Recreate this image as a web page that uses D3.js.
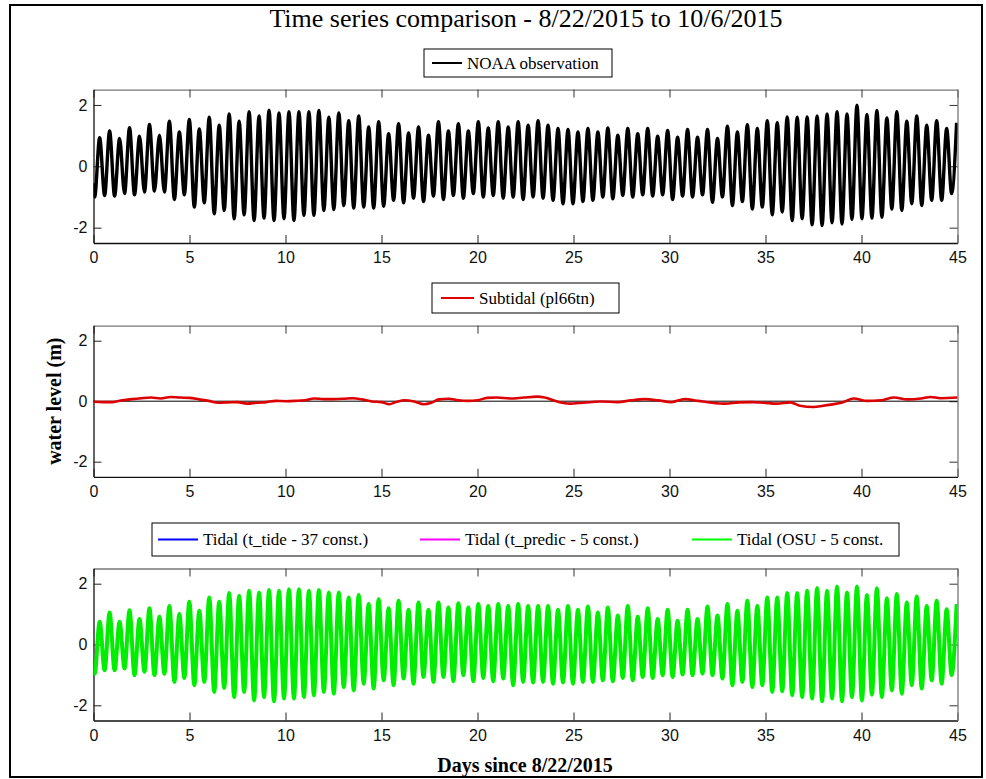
<!DOCTYPE html>
<html>
<head>
<meta charset="utf-8">
<script src="https://cdn.jsdelivr.net/npm/d3@7/dist/d3.min.js"></script>
<style>
  body { margin: 0; background: #fff; }
  svg { display: block; }
</style>
</head>
<body>
<svg id="chart" width="986" height="779"></svg>
<script>
// ---- Axis ticks ----
const xTicks = [0, 5, 10, 15, 20, 25, 30, 35, 40, 45];
const yTicks = [-2, 0, 2];

// ---- Time base of the high waters (days since 8/22/2015) ----
const firstHighDay = 0.32;
const highWaterSpacing = 0.519;

// ---- NOAA observation: level at day 0, then successive low / high waters (m) ----
const obsStartLevel = -0.55;
const obsLows = [
  -1.00, -0.95, -0.97, -0.89, -0.93, -0.84, -0.81, -0.84, -1.08, -0.93,
  -1.33, -1.19, -1.55, -1.44, -1.71, -1.58, -1.77, -1.69, -1.77, -1.71,
  -1.77, -1.60, -1.60, -1.44, -1.41, -1.28, -1.36, -1.33, -1.36, -1.30,
  -1.11, -1.19, -1.04, -1.15, -0.97, -1.08, -0.95, -1.04, -0.89, -1.00,
  -0.95, -1.04, -1.00, -1.08, -1.00, -1.04, -1.11, -1.22, -1.22, -1.15,
  -1.11, -1.00, -1.06, -0.95, -1.00, -0.93, -0.97, -0.93, -1.08, -0.97,
  -1.00, -0.93, -1.17, -1.00, -1.28, -1.15, -1.39, -1.33, -1.58, -1.49,
  -1.77, -1.71, -1.91, -1.93, -1.84, -1.88, -1.73, -1.71, -1.69, -1.66,
  -1.39, -1.44, -1.22, -1.28, -1.11, -1.11, -0.89
];
const obsHighs = [
  0.93, 1.15, 0.91, 1.26, 0.98, 1.36, 1.01, 1.47, 1.12, 1.53,
  1.22, 1.60, 1.34, 1.71, 1.47, 1.78, 1.64, 1.83, 1.74, 1.78,
  1.78, 1.78, 1.82, 1.60, 1.74, 1.49, 1.64, 1.28, 1.45, 1.06,
  1.39, 1.09, 1.28, 1.01, 1.45, 1.15, 1.39, 1.15, 1.45, 1.25,
  1.45, 1.28, 1.45, 1.34, 1.49, 1.34, 1.23, 1.20, 1.12, 1.23,
  1.12, 1.25, 1.01, 1.23, 1.06, 1.23, 0.98, 1.17, 0.95, 1.20,
  0.95, 1.20, 0.91, 1.31, 1.12, 1.36, 1.23, 1.49, 1.42, 1.61,
  1.60, 1.61, 1.64, 1.71, 1.78, 1.71, 1.99, 1.69, 1.82, 1.58,
  1.78, 1.47, 1.64, 1.34, 1.49, 1.23, 1.42
];

// ---- Tidal prediction (OSU, 5 constituents) ----
const tideStartLevel = -0.70;
const tideLows = [
  -0.96, -0.85, -0.85, -0.79, -1.01, -0.90, -1.01, -0.96, -1.23, -1.10,
  -1.34, -1.23, -1.56, -1.43, -1.73, -1.56, -1.84, -1.73, -1.87, -1.78,
  -1.78, -1.73, -1.67, -1.56, -1.62, -1.40, -1.51, -1.29, -1.45, -1.18,
  -1.34, -1.12, -1.29, -1.07, -1.23, -1.07, -1.21, -1.01, -1.21, -1.10,
  -1.21, -1.12, -1.34, -1.23, -1.25, -1.23, -1.29, -1.25, -1.29, -1.23,
  -1.23, -1.18, -1.21, -1.10, -1.18, -1.07, -1.10, -1.01, -1.07, -0.99,
  -1.01, -0.96, -1.01, -1.12, -1.34, -1.23, -1.40, -1.34, -1.56, -1.54,
  -1.67, -1.73, -1.78, -1.87, -1.78, -1.87, -1.73, -1.84, -1.65, -1.73,
  -1.51, -1.62, -1.34, -1.45, -1.18, -1.29, -1.01
];
const tideHighs = [
  0.75, 1.05, 0.75, 1.13, 0.84, 1.19, 0.91, 1.27, 1.00, 1.41,
  1.11, 1.55, 1.41, 1.69, 1.60, 1.77, 1.71, 1.79, 1.77, 1.82,
  1.82, 1.77, 1.79, 1.71, 1.71, 1.55, 1.63, 1.33, 1.49, 1.19,
  1.44, 1.14, 1.38, 1.14, 1.38, 1.22, 1.36, 1.22, 1.33, 1.27,
  1.33, 1.27, 1.33, 1.27, 1.27, 1.27, 1.14, 1.27, 1.14, 1.25,
  1.05, 1.22, 0.95, 1.27, 0.91, 1.19, 0.84, 1.14, 0.78, 1.14,
  0.84, 1.25, 0.95, 1.33, 1.11, 1.44, 1.27, 1.55, 1.55, 1.69,
  1.69, 1.77, 1.86, 1.77, 1.91, 1.71, 1.91, 1.63, 1.85, 1.52,
  1.66, 1.38, 1.58, 1.27, 1.44, 1.16, 1.33
];

// ---- Subtidal signal (pl66tn filter) ----
const subtidalDays = [
  0, 0.5, 1, 1.5, 2, 2.5, 3, 3.5, 4, 4.5, 5, 5.5, 6, 6.5, 7, 7.5, 8, 8.5, 9, 9.5,
  10, 10.5, 11, 11.5, 12, 12.5, 13, 13.5, 14, 14.5, 15, 15.4, 15.8, 16.2, 16.7, 17.2, 17.6, 18, 18.5, 19,
  19.5, 20, 20.5, 21, 21.7, 22.4, 23.1, 23.5, 24.2, 24.8, 25.5, 26.4, 27.3, 28.0, 28.7, 29.4, 30.1, 30.8, 31.5, 32.2,
  32.9, 33.6, 34.3, 34.9, 35.6, 36.3, 36.8, 37.5, 38.0, 38.7, 39.0, 39.6, 40.3, 41.0, 41.7, 42.4, 43.1, 43.6, 44.1, 45
];
const subtidalLevels = [
  -0.02, -0.03, -0.03, 0.03, 0.07, 0.10, 0.12, 0.09, 0.14, 0.12, 0.11, 0.06, 0.01, -0.05, -0.04, -0.03, -0.08, -0.05, -0.03, 0.01,
  0.00, 0.01, 0.03, 0.09, 0.07, 0.07, 0.08, 0.10, 0.06, -0.01, -0.03, -0.10, -0.02, 0.03, -0.01, -0.10, -0.05, 0.06, 0.08, 0.03,
  0.01, 0.03, 0.11, 0.12, 0.09, 0.12, 0.15, 0.12, -0.02, -0.08, -0.05, -0.01, -0.03, 0.03, 0.07, 0.03, -0.03, 0.07, 0.01, -0.05,
  -0.08, -0.04, -0.03, -0.05, -0.08, -0.04, -0.15, -0.19, -0.15, -0.08, -0.04, 0.09, 0.01, 0.03, 0.12, 0.06, 0.09, 0.14, 0.10, 0.12
];

// ---- Legend entries ----
const legendObs = [{ label: "NOAA observation", color: "#000000" }];
const legendSub = [{ label: "Subtidal (pl66tn)", color: "#e00000" }];
const legendTide = [
  { label: "Tidal (t_tide - 37 const.)", color: "#0000ff" },
  { label: "Tidal (t_predic - 5 const.)", color: "#ff00ff" },
  { label: "Tidal (OSU - 5 const.", color: "#00ff00" }
];

// Combine start level and alternating low/high waters into a time series
function tidalSeries(startLevel, lows, highs) {
  const pts = [{ t: 0, v: startLevel }];
  for (let k = 0; k < highs.length; k++) {
    const tHigh = firstHighDay + k * highWaterSpacing;
    pts.push({ t: tHigh - highWaterSpacing / 2, v: lows[k] });
    pts.push({ t: tHigh, v: highs[k] });
  }
  return pts.filter(p => p.t >= 0 && p.t <= 45);
}

const svg = d3.select("#chart");
const W = 986, H = 779;
const serif = "'Liberation Serif', 'Times New Roman', Times, serif";
const sans = "'Liberation Sans', Arial, Helvetica, sans-serif";
const plainNumber = d => String(d);

svg.append("rect").attr("width", W).attr("height", H).attr("fill", "#fff");
// figure frame
svg.append("rect").attr("x", 10).attr("y", 5).attr("width", 972).attr("height", 772)
  .attr("fill", "none").attr("stroke", "#000").attr("stroke-width", 2);

const x = d3.scaleLinear().domain([0, 45]).range([93.5, 957.5]);

const panels = [
  { top: 89.6, bottom: 243 },
  { top: 325.6, bottom: 476.8 },
  { top: 568.5, bottom: 720.5 }
];

function makeAxes(p, i) {
  const y = d3.scaleLinear().domain([-2.5, 2.5]).range([p.bottom, p.top]);
  const g = svg.append("g");
  g.append("rect").attr("x", x(0)).attr("y", p.top).attr("width", x(45) - x(0))
    .attr("height", p.bottom - p.top).attr("fill", "#fff");
  g.append("clipPath").attr("id", "clip" + i).append("rect")
    .attr("x", x(0)).attr("y", p.top).attr("width", x(45) - x(0)).attr("height", p.bottom - p.top);

  const bottom = g.append("g").attr("transform", `translate(0,${p.bottom})`)
    .call(d3.axisBottom(x).tickValues(xTicks).tickFormat(plainNumber)
      .tickSizeInner(-8).tickSizeOuter(0).tickPadding(9));
  const top = g.append("g").attr("transform", `translate(0,${p.top})`)
    .call(d3.axisTop(x).tickValues(xTicks).tickFormat("")
      .tickSizeInner(-8).tickSizeOuter(0));
  const left = g.append("g").attr("transform", `translate(${x(0)},0)`)
    .call(d3.axisLeft(y).tickValues(yTicks).tickFormat(plainNumber)
      .tickSizeInner(-8).tickSizeOuter(0).tickPadding(6));
  const right = g.append("g").attr("transform", `translate(${x(45)},0)`)
    .call(d3.axisRight(y).tickValues(yTicks).tickFormat("")
      .tickSizeInner(-8).tickSizeOuter(0));

  [bottom, left].forEach(a => {
    a.select(".domain").attr("stroke", "#111").attr("stroke-width", 1.3);
    a.selectAll(".tick line").attr("stroke", "#222");
    a.selectAll(".tick text").attr("font-family", sans).attr("font-size", 16).attr("fill", "#111");
  });
  [top, right].forEach(a => {
    a.select(".domain").attr("stroke", "#777").attr("stroke-width", 1.3);
    a.selectAll(".tick line").attr("stroke", "#333");
  });
  return { y, g };
}

function drawLine(ax, i, data, color, width, curve) {
  const line = d3.line().x(d => x(d.t)).y(d => ax.y(d.v)).curve(curve || d3.curveMonotoneX);
  ax.g.append("path").datum(data).attr("clip-path", `url(#clip${i})`)
    .attr("d", line).attr("fill", "none").attr("stroke", color)
    .attr("stroke-width", width).attr("stroke-linejoin", "round");
}

function drawLegend(items, box, entryX, lineLen) {
  const g = svg.append("g");
  g.append("rect").attr("x", box.x).attr("y", box.y).attr("width", box.w).attr("height", box.h)
    .attr("fill", "#fff").attr("stroke", "#000").attr("stroke-width", 1);
  const cy = box.y + box.h / 2;
  items.forEach((it, j) => {
    const ex = entryX[j];
    g.append("line").attr("x1", ex).attr("x2", ex + lineLen).attr("y1", cy).attr("y2", cy)
      .attr("stroke", it.color).attr("stroke-width", 2);
    g.append("text").attr("x", ex + lineLen + 5).attr("y", cy + 5.5)
      .attr("font-family", serif).attr("font-size", 17).attr("fill", "#000").text(it.label);
  });
}

// Panel 1: observation
const a1 = makeAxes(panels[0], 0);
drawLine(a1, 0, tidalSeries(obsStartLevel, obsLows, obsHighs), "#000", 3.4);

// Panel 2: subtidal with zero reference
const a2 = makeAxes(panels[1], 1);
a2.g.append("line").attr("x1", x(0)).attr("x2", x(45)).attr("y1", a2.y(0)).attr("y2", a2.y(0))
  .attr("stroke", "#000").attr("stroke-width", 1);
drawLine(a2, 1, subtidalDays.map((t, i) => ({ t, v: subtidalLevels[i] })), "#dd0000", 2.6, d3.curveMonotoneX);

// Panel 3: tidal predictions
const a3 = makeAxes(panels[2], 2);
const tide = tidalSeries(tideStartLevel, tideLows, tideHighs);
drawLine(a3, 2, tide, "#0000ff", 1);
drawLine(a3, 2, tide, "#ff00ff", 1);
drawLine(a3, 2, tide, "#00ee00", 4);

// Legends
drawLegend(legendObs, { x: 424, y: 49, w: 188, h: 28 }, [432], 30);
drawLegend(legendSub, { x: 432, y: 283, w: 187, h: 30 }, [441], 33);
drawLegend(legendTide, { x: 152, y: 523, w: 747, h: 33 }, [158, 420, 692], 40);

// Titles and axis labels
svg.append("text").attr("x", 526).attr("y", 27).attr("text-anchor", "middle")
  .attr("font-family", serif).attr("font-size", 26).text("Time series comparison - 8/22/2015 to 10/6/2015");
svg.append("text").attr("x", 525).attr("y", 772).attr("text-anchor", "middle")
  .attr("font-family", serif).attr("font-size", 20).attr("font-weight", "bold").text("Days since 8/22/2015");
svg.append("text").attr("transform", `translate(61,${a2.y(0)}) rotate(-90)`).attr("text-anchor", "middle")
  .attr("font-family", serif).attr("font-size", 20).attr("font-weight", "bold").text("water level (m)");
</script>
</body>
</html>
